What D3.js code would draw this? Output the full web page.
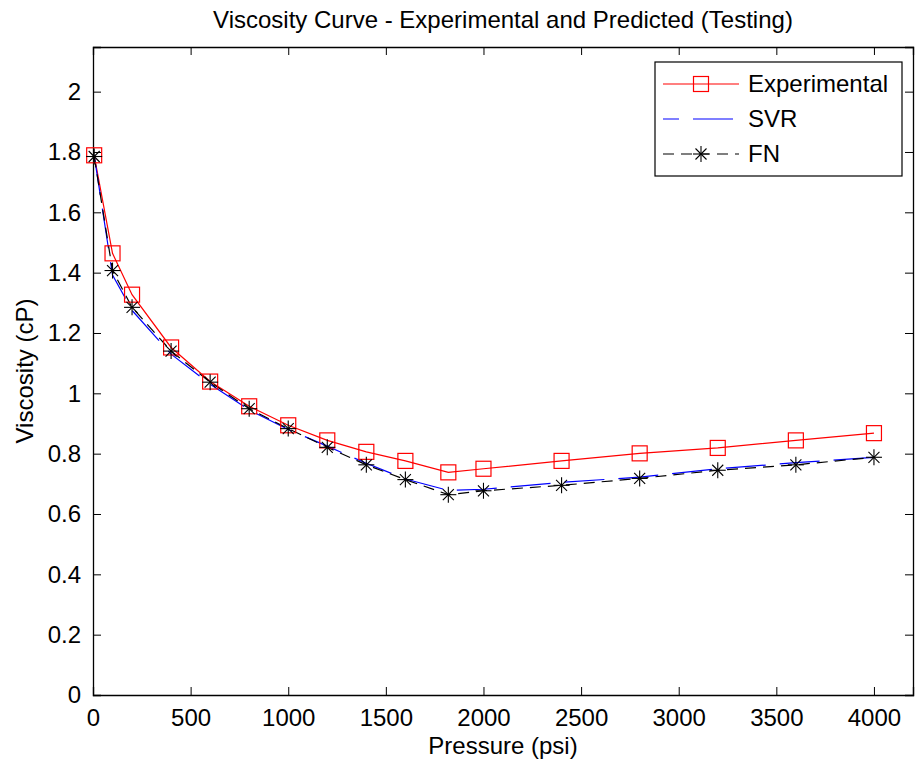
<!DOCTYPE html>
<html>
<head>
<meta charset="utf-8">
<script src="https://cdn.jsdelivr.net/npm/d3@7"></script>
<style>
  body { margin: 0; background: #fff; }
  svg text { font-family: "Liberation Sans", Arial, sans-serif; fill: #000; }
</style>
</head>
<body>
<svg id="chart" width="916" height="763"></svg>
<script>
// viscosity vs pressure, testing set
var pressure = [6, 100, 200, 400, 600, 800, 1000, 1200, 1400, 1600, 1820, 2000, 2400, 2800, 3200, 3600, 4000];
var experimental = [1.789, 1.464, 1.327, 1.152, 1.039, 0.957, 0.894, 0.844, 0.806, 0.776, 0.738, 0.750, 0.776, 0.801, 0.819, 0.844, 0.868];
var svr = [1.789, 1.392, 1.275, 1.130, 1.030, 0.945, 0.880, 0.825, 0.768, 0.716, 0.678, 0.682, 0.705, 0.722, 0.750, 0.770, 0.788];
var fn = [1.785, 1.407, 1.285, 1.140, 1.037, 0.949, 0.883, 0.821, 0.763, 0.714, 0.664, 0.677, 0.695, 0.718, 0.745, 0.763, 0.788];

var xTicks = [0, 500, 1000, 1500, 2000, 2500, 3000, 3500, 4000];
var yTicks = [0, 0.2, 0.4, 0.6, 0.8, 1, 1.2, 1.4, 1.6, 1.8, 2];
var seriesNames = ['Experimental', 'SVR', 'FN'];

var plotL = 93, plotR = 913, plotT = 47, plotB = 695;
var fontSize = 24;

var svg = d3.select('#chart');

var x = d3.scaleLinear().domain([0, 4200]).range([plotL, plotR]);
var y = d3.scaleLinear().domain([0, 2.148]).range([plotB, plotT]);

var fmt = function(d) { return String(d); };

function styleAxis(g) {
  g.select('.domain').attr('stroke', '#000').attr('stroke-width', 1.3);
  g.selectAll('.tick line').attr('stroke', '#000').attr('stroke-width', 1);
  g.selectAll('.tick text')
    .style('font-size', fontSize + 'px')
    .style('font-family', '"Liberation Sans", Arial, sans-serif');
}

// axes, ticks pointing inward, box on
svg.append('g')
  .attr('transform', 'translate(0,' + plotB + ')')
  .call(d3.axisBottom(x).tickValues(xTicks).tickSize(-8).tickPadding(14).tickFormat(fmt))
  .call(styleAxis);

svg.append('g')
  .attr('transform', 'translate(0,' + plotT + ')')
  .call(d3.axisTop(x).tickValues(xTicks).tickSize(-8).tickFormat(''))
  .call(styleAxis);

svg.append('g')
  .attr('transform', 'translate(' + plotL + ',0)')
  .call(d3.axisLeft(y).tickValues(yTicks).tickSize(-8).tickPadding(12).tickFormat(fmt))
  .call(styleAxis);

svg.append('g')
  .attr('transform', 'translate(' + plotR + ',0)')
  .call(d3.axisRight(y).tickValues(yTicks).tickSize(-8).tickFormat(''))
  .call(styleAxis);

var line = d3.line()
  .x(function(d) { return x(d[0]); })
  .y(function(d) { return y(d[1]); });

var expPts = d3.zip(pressure, experimental);
var svrPts = d3.zip(pressure, svr);
var fnPts = d3.zip(pressure, fn);

var plot = svg.append('g');

plot.append('path')
  .datum(expPts)
  .attr('d', line)
  .attr('fill', 'none')
  .attr('stroke', '#ff0000')
  .attr('stroke-width', 1.2);

plot.append('path')
  .datum(svrPts)
  .attr('d', line)
  .attr('fill', 'none')
  .attr('stroke', '#0000ff')
  .attr('stroke-width', 1.2)
  .attr('stroke-dasharray', '40,14');

plot.append('path')
  .datum(fnPts)
  .attr('d', line)
  .attr('fill', 'none')
  .attr('stroke', '#000')
  .attr('stroke-width', 1.2)
  .attr('stroke-dasharray', '11,7');

function drawSquare(g, cx, cy) {
  g.append('rect')
    .attr('x', cx - 7.5).attr('y', cy - 7.5)
    .attr('width', 15).attr('height', 15)
    .attr('fill', 'none')
    .attr('stroke', '#ff0000')
    .attr('stroke-width', 1.2);
}

function drawStar(g, cx, cy) {
  var r = 8, d = 5.5;
  var segs = [[0, -r, 0, r], [-r, 0, r, 0], [-d, -d, d, d], [-d, d, d, -d]];
  segs.forEach(function(s) {
    g.append('line')
      .attr('x1', cx + s[0]).attr('y1', cy + s[1])
      .attr('x2', cx + s[2]).attr('y2', cy + s[3])
      .attr('stroke', '#000')
      .attr('stroke-width', 1.1);
  });
}

expPts.forEach(function(p) { drawSquare(plot, x(p[0]), y(p[1])); });
fnPts.forEach(function(p) { drawStar(plot, x(p[0]), y(p[1])); });

// title and axis labels
svg.append('text')
  .attr('x', (plotL + plotR) / 2)
  .attr('y', 28)
  .attr('text-anchor', 'middle')
  .style('font-size', fontSize + 'px')
  .text('Viscosity Curve - Experimental and Predicted (Testing)');

svg.append('text')
  .attr('x', (plotL + plotR) / 2)
  .attr('y', 754)
  .attr('text-anchor', 'middle')
  .style('font-size', fontSize + 'px')
  .text('Pressure (psi)');

svg.append('text')
  .attr('transform', 'translate(33,' + ((plotT + plotB) / 2) + ') rotate(-90)')
  .attr('text-anchor', 'middle')
  .style('font-size', fontSize + 'px')
  .text('Viscosity (cP)');

// legend
var lg = svg.append('g');
var boxX = 655, boxY = 62, boxW = 247, boxH = 114;
lg.append('rect')
  .attr('x', boxX).attr('y', boxY)
  .attr('width', boxW).attr('height', boxH)
  .attr('fill', '#fff')
  .attr('stroke', '#000')
  .attr('stroke-width', 1.2);

var rowY = [84, 119, 154];
var lineX1 = 663, lineX2 = 739, textX = 748;

seriesNames.forEach(function(name, i) {
  var l = lg.append('line')
    .attr('x1', lineX1).attr('x2', lineX2)
    .attr('y1', rowY[i]).attr('y2', rowY[i])
    .attr('stroke-width', 1.2);
  if (i === 0) l.attr('stroke', '#ff0000');
  if (i === 1) l.attr('stroke', '#0000ff').attr('stroke-dasharray', '40,14').attr('stroke-dashoffset', -30);
  if (i === 2) l.attr('stroke', '#000').attr('stroke-dasharray', '11,7');
  var mx = (lineX1 + lineX2) / 2;
  if (i === 0) drawSquare(lg, mx, rowY[i]);
  if (i === 2) drawStar(lg, mx, rowY[i]);
  lg.append('text')
    .attr('x', textX)
    .attr('y', rowY[i])
    .attr('dy', '0.35em')
    .style('font-size', fontSize + 'px')
    .text(name);
});
</script>
</body>
</html>
